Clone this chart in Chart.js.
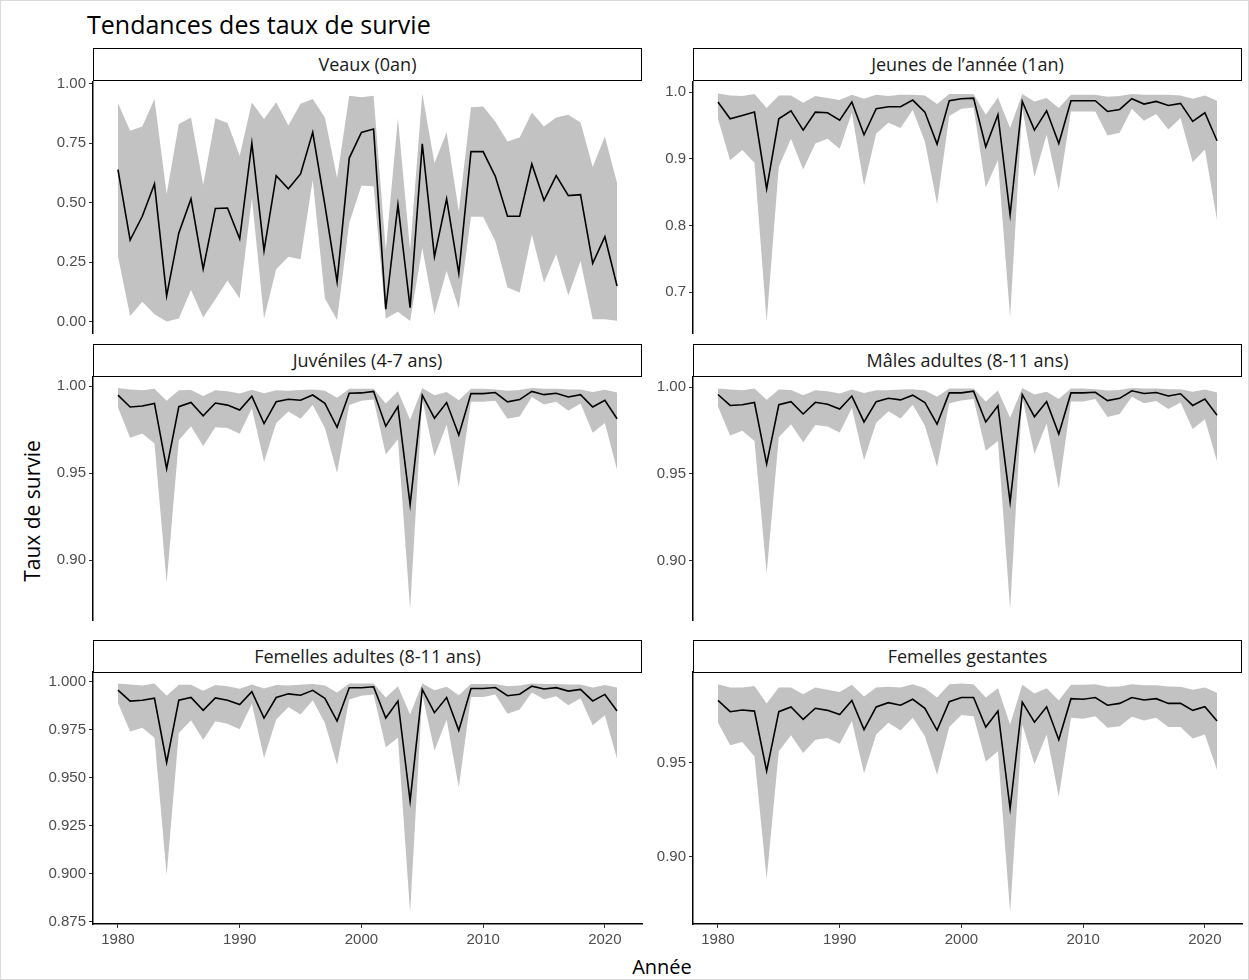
<!DOCTYPE html>
<html>
<head>
<meta charset="utf-8">
<script src="https://cdn.jsdelivr.net/npm/chart.js@4/dist/chart.umd.min.js"></script>
<style>
  html,body{margin:0;padding:0;background:#fff;}
  body{width:1249px;height:980px;position:relative;overflow:hidden;font-family:'Open Sans','Noto Sans',sans-serif;}
  .frame{position:absolute;left:0;top:0;width:1247px;height:978px;border:1px solid #d9d9d9;}
  .title{position:absolute;left:87px;top:7px;font-size:25px;color:#000;white-space:nowrap;}
  .strip{position:absolute;box-sizing:border-box;border:1.5px solid #000;background:#fff;text-align:center;font-size:18px;color:#1a1a1a;white-space:nowrap;}
  .ylab{position:absolute;left:32px;top:511px;transform:translate(-50%,-50%) rotate(-90deg);font-size:21px;color:#000;white-space:nowrap;}
  .xlab{position:absolute;left:662px;top:966px;transform:translate(-50%,-50%);font-size:20px;color:#000;white-space:nowrap;}
  canvas{position:absolute;}
</style>
</head>
<body>
<div class="frame"></div>
<div class="title">Tendances des taux de survie</div>
<div class="ylab">Taux de survie</div>
<div class="xlab">Année</div>
<script>
// ---------------- DATA ----------------
const years = [1980,1981,1982,1983,1984,1985,1986,1987,1988,1989,
               1990,1991,1992,1993,1994,1995,1996,1997,1998,1999,
               2000,2001,2002,2003,2004,2005,2006,2007,2008,2009,
               2010,2011,2012,2013,2014,2015,2016,2017,2018,2019,
               2020,2021];
const xTicks = [1980,1990,2000,2010,2020];
const xTickLabels = ['1980','1990','2000','2010','2020'];

const panelTitles = ['Veaux (0an)','Jeunes de l\u2019année (1an)','Juvéniles (4-7 ans)','Mâles adultes (8-11 ans)','Femelles adultes (8-11 ans)','Femelles gestantes'];

// Veaux (0an)
const veauxMean = [0.639,0.343,0.443,0.579,0.108,0.373,0.516,0.222,0.476,0.478,
                   0.348,0.751,0.299,0.614,0.559,0.621,0.796,0.490,0.168,0.688,
                   0.796,0.810,0.052,0.492,0.059,0.748,0.273,0.516,0.203,0.715,
                   0.715,0.611,0.443,0.443,0.663,0.510,0.614,0.530,0.534,0.245,
                   0.357,0.150];
const veauxUpper = [0.919,0.803,0.821,0.936,0.537,0.831,0.859,0.576,0.856,0.835,
                    0.698,0.922,0.852,0.923,0.825,0.916,0.937,0.859,0.604,0.950,
                    0.944,0.950,0.300,0.856,0.300,0.960,0.667,0.797,0.464,0.902,
                    0.905,0.842,0.758,0.775,0.880,0.821,0.859,0.870,0.838,0.650,
                    0.779,0.583];
const veauxLower = [0.276,0.024,0.084,0.031,0.000,0.013,0.133,0.017,0.094,0.173,
                    0.097,0.520,0.013,0.220,0.273,0.262,0.597,0.097,0.007,0.415,
                    0.572,0.569,0.013,0.041,0.003,0.310,0.031,0.213,0.055,0.441,
                    0.441,0.338,0.143,0.122,0.366,0.164,0.283,0.110,0.255,0.010,
                    0.010,0.003];
const veauxTicks = [0,0.25,0.5,0.75,1.0];
const veauxTickLabels = ['0.00','0.25','0.50','0.75','1.00'];

// Jeunes de l'année (1an)
const jeunesMean = [0.985,0.960,0.965,0.970,0.855,0.960,0.972,0.943,0.970,0.969,
                    0.958,0.985,0.936,0.975,0.978,0.978,0.988,0.970,0.922,0.987,
                    0.990,0.991,0.918,0.966,0.816,0.986,0.943,0.972,0.923,0.987,
                    0.987,0.987,0.971,0.974,0.990,0.982,0.986,0.980,0.983,0.956,
                    0.969,0.927];
const jeunesUpper = [0.998,0.995,0.994,0.997,0.976,0.995,0.995,0.984,0.994,0.991,
                     0.988,0.996,0.990,0.996,0.994,0.996,0.996,0.995,0.982,0.997,
                     0.997,0.997,0.966,0.992,0.946,0.997,0.986,0.991,0.976,0.996,
                     0.996,0.996,0.993,0.994,0.997,0.996,0.996,0.996,0.995,0.990,
                     0.995,0.987];
const jeunesLower = [0.960,0.898,0.913,0.894,0.656,0.888,0.930,0.884,0.923,0.930,
                     0.915,0.969,0.860,0.938,0.954,0.946,0.973,0.926,0.832,0.964,
                     0.975,0.977,0.857,0.898,0.662,0.976,0.873,0.936,0.853,0.971,
                     0.971,0.971,0.935,0.939,0.975,0.957,0.967,0.944,0.961,0.895,
                     0.914,0.808];
const jeunesTicks = [0.7,0.8,0.9,1.0];
const jeunesTickLabels = ['0.7','0.8','0.9','1.0'];

// Juvéniles (4-7 ans)
const juvMean = [0.9948,0.9880,0.9886,0.9901,0.9526,0.9882,0.9906,0.9830,0.9903,0.9891,
                 0.9863,0.9942,0.9785,0.9910,0.9925,0.9919,0.9949,0.9901,0.9764,0.9959,
                 0.9961,0.9970,0.9770,0.9882,0.9320,0.9948,0.9816,0.9906,0.9719,0.9957,
                 0.9957,0.9963,0.9910,0.9923,0.9970,0.9951,0.9959,0.9938,0.9951,0.9880,
                 0.9919,0.9813];
const juvUpper = [0.9989,0.9981,0.9976,0.9985,0.9916,0.9976,0.9978,0.9944,0.9976,0.9970,
                  0.9957,0.9979,0.9959,0.9976,0.9974,0.9978,0.9981,0.9974,0.9934,0.9985,
                  0.9985,0.9985,0.9901,0.9970,0.9807,0.9989,0.9948,0.9966,0.9919,0.9985,
                  0.9985,0.9981,0.9974,0.9978,0.9989,0.9985,0.9985,0.9981,0.9981,0.9966,
                  0.9979,0.9963];
const juvLower = [0.9878,0.9704,0.9728,0.9670,0.8871,0.9689,0.9770,0.9657,0.9764,0.9760,
                  0.9727,0.9873,0.9564,0.9788,0.9854,0.9813,0.9891,0.9760,0.9502,0.9891,
                  0.9916,0.9923,0.9607,0.9695,0.8721,0.9923,0.9596,0.9779,0.9423,0.9910,
                  0.9910,0.9916,0.9813,0.9826,0.9938,0.9895,0.9910,0.9858,0.9901,0.9732,
                  0.9788,0.9521];
const juvTicks = [0.90,0.95,1.00];
const juvTickLabels = ['0.90','0.95','1.00'];

// Mâles adultes (8-11 ans)
const malesMean = [0.9957,0.9894,0.9898,0.9911,0.9557,0.9898,0.9916,0.9845,0.9912,0.9901,
                   0.9873,0.9948,0.9799,0.9916,0.9935,0.9926,0.9953,0.9911,0.9786,0.9966,
                   0.9966,0.9976,0.9799,0.9892,0.9339,0.9957,0.9829,0.9916,0.9730,0.9966,
                   0.9966,0.9970,0.9922,0.9935,0.9978,0.9963,0.9968,0.9948,0.9961,0.9894,
                   0.9931,0.9838];
const malesUpper = [0.9991,0.9985,0.9981,0.9991,0.9926,0.9985,0.9983,0.9953,0.9981,0.9976,
                    0.9963,0.9985,0.9966,0.9981,0.9981,0.9985,0.9987,0.9980,0.9944,0.9991,
                    0.9991,0.9991,0.9916,0.9980,0.9823,0.9994,0.9957,0.9972,0.9931,0.9991,
                    0.9991,0.9987,0.9980,0.9983,0.9994,0.9991,0.9991,0.9987,0.9987,0.9972,
                    0.9985,0.9968];
const malesLower = [0.9888,0.9721,0.9749,0.9689,0.8929,0.9711,0.9786,0.9683,0.9782,0.9773,
                    0.9739,0.9879,0.9581,0.9795,0.9860,0.9819,0.9898,0.9777,0.9540,0.9907,
                    0.9922,0.9931,0.9633,0.9689,0.8724,0.9939,0.9615,0.9790,0.9413,0.9916,
                    0.9916,0.9931,0.9827,0.9845,0.9944,0.9907,0.9920,0.9873,0.9911,0.9758,
                    0.9814,0.9572];
const malesTicks = [0.90,0.95,1.00];
const malesTickLabels = ['0.90','0.95','1.00'];

// Femelles adultes (8-11 ans)
const femMean = [0.9956,0.9899,0.9904,0.9914,0.9580,0.9904,0.9918,0.9851,0.9916,0.9904,
                 0.9881,0.9948,0.9811,0.9918,0.9937,0.9930,0.9955,0.9914,0.9795,0.9969,
                 0.9969,0.9974,0.9811,0.9899,0.9379,0.9960,0.9839,0.9918,0.9747,0.9965,
                 0.9965,0.9970,0.9927,0.9935,0.9977,0.9962,0.9969,0.9951,0.9960,0.9900,
                 0.9934,0.9848];
const femUpper = [0.9991,0.9986,0.9981,0.9991,0.9927,0.9984,0.9984,0.9953,0.9983,0.9977,
                  0.9963,0.9986,0.9965,0.9983,0.9981,0.9984,0.9988,0.9981,0.9944,0.9991,
                  0.9991,0.9991,0.9918,0.9977,0.9829,0.9991,0.9956,0.9974,0.9930,0.9988,
                  0.9988,0.9988,0.9977,0.9981,0.9991,0.9988,0.9988,0.9986,0.9986,0.9970,
                  0.9983,0.9970];
const femLower = [0.9890,0.9741,0.9760,0.9708,0.8995,0.9733,0.9799,0.9698,0.9794,0.9781,
                  0.9753,0.9886,0.9603,0.9804,0.9869,0.9830,0.9904,0.9785,0.9568,0.9907,
                  0.9927,0.9934,0.9659,0.9708,0.8799,0.9934,0.9642,0.9802,0.9449,0.9921,
                  0.9921,0.9934,0.9834,0.9855,0.9944,0.9909,0.9925,0.9878,0.9914,0.9773,
                  0.9825,0.9598];
const femTicks = [0.875,0.900,0.925,0.950,0.975,1.000];
const femTickLabels = ['0.875','0.900','0.925','0.950','0.975','1.000'];

// Femelles gestantes
const gestMean = [0.9830,0.9770,0.9779,0.9773,0.9455,0.9770,0.9795,0.9729,0.9788,0.9777,
                  0.9755,0.9830,0.9675,0.9795,0.9818,0.9804,0.9836,0.9788,0.9671,0.9823,
                  0.9845,0.9845,0.9688,0.9773,0.9255,0.9821,0.9714,0.9796,0.9621,0.9839,
                  0.9836,0.9845,0.9804,0.9814,0.9845,0.9832,0.9839,0.9814,0.9814,0.9777,
                  0.9796,0.9720];
const gestUpper = [0.9916,0.9898,0.9898,0.9907,0.9813,0.9898,0.9898,0.9863,0.9898,0.9886,
                   0.9875,0.9913,0.9850,0.9898,0.9902,0.9898,0.9916,0.9895,0.9845,0.9916,
                   0.9920,0.9916,0.9845,0.9895,0.9702,0.9913,0.9866,0.9895,0.9830,0.9913,
                   0.9913,0.9916,0.9902,0.9904,0.9916,0.9911,0.9911,0.9904,0.9902,0.9886,
                   0.9898,0.9871];
const gestLower = [0.9711,0.9591,0.9609,0.9532,0.8880,0.9559,0.9645,0.9550,0.9621,0.9630,
                   0.9600,0.9720,0.9443,0.9648,0.9711,0.9670,0.9738,0.9639,0.9434,0.9689,
                   0.9752,0.9746,0.9505,0.9559,0.8702,0.9702,0.9491,0.9648,0.9318,0.9738,
                   0.9732,0.9746,0.9684,0.9693,0.9743,0.9723,0.9738,0.9688,0.9689,0.9627,
                   0.9648,0.9461];
const gestTicks = [0.90,0.95];
const gestTickLabels = ['0.90','0.95'];

// ---------------- LAYOUT ----------------
const colLeft = [93, 693];
const plotW = 549;
const rowTop = [82, 377, 672];
const rowBottom = [333, 620, 924];
const stripTop = [48, 344, 640];
const stripH = 33;
const yAxisW = 53;
const padTop = 14, padBottom = 14, xAxisH = 32;
const RIBBON = '#c2c2c2';
const TICKFONT = {family:"'Liberation Sans', Arial, sans-serif", size:15};
const TICKCOLOR = '#4d4d4d';

const panels = [
  {title:panelTitles[0], mean:veauxMean, upper:veauxUpper, lower:veauxLower, ticks:veauxTicks, tickLabels:veauxTickLabels, col:0, row:0},
  {title:panelTitles[1], mean:jeunesMean, upper:jeunesUpper, lower:jeunesLower, ticks:jeunesTicks, tickLabels:jeunesTickLabels, col:1, row:0},
  {title:panelTitles[2], mean:juvMean, upper:juvUpper, lower:juvLower, ticks:juvTicks, tickLabels:juvTickLabels, col:0, row:1},
  {title:panelTitles[3], mean:malesMean, upper:malesUpper, lower:malesLower, ticks:malesTicks, tickLabels:malesTickLabels, col:1, row:1},
  {title:panelTitles[4], mean:femMean, upper:femUpper, lower:femLower, ticks:femTicks, tickLabels:femTickLabels, col:0, row:2},
  {title:panelTitles[5], mean:gestMean, upper:gestUpper, lower:gestLower, ticks:gestTicks, tickLabels:gestTickLabels, col:1, row:2}
];

const xMinData = years[0], xMaxData = years[years.length-1];
const xPad = (xMaxData - xMinData) * 0.05;

function pts(arr){ return years.map((y,i)=>({x:y, y:arr[i]})); }

panels.forEach(p => {
  const s = document.createElement('div');
  s.className = 'strip';
  s.style.left = colLeft[p.col] + 'px';
  s.style.top = stripTop[p.row] + 'px';
  s.style.width = plotW + 'px';
  s.style.height = stripH + 'px';
  s.style.lineHeight = (stripH - 3) + 'px';
  s.textContent = p.title;
  document.body.appendChild(s);

  const bottomRow = p.row === 2;
  const cv = document.createElement('canvas');
  const cw = yAxisW + plotW + 1;
  const ch = padTop + (rowBottom[p.row] - rowTop[p.row]) + (bottomRow ? xAxisH : padBottom);
  cv.width = cw; cv.height = ch;
  cv.style.width = cw + 'px'; cv.style.height = ch + 'px';
  cv.style.left = (colLeft[p.col] - yAxisW) + 'px';
  cv.style.top = (rowTop[p.row] - padTop) + 'px';
  document.body.appendChild(cv);

  const lo = Math.min(...p.lower), hi = Math.max(...p.upper);
  const yPad = (hi - lo) * 0.05;

  new Chart(cv.getContext('2d'), {
    type: 'line',
    data: {
      datasets: [
        {data: pts(p.upper), order:2, borderColor:'rgba(0,0,0,0)', borderWidth:0, pointRadius:0, fill:'+1', backgroundColor:RIBBON, tension:0},
        {data: pts(p.lower), order:2, borderColor:'rgba(0,0,0,0)', borderWidth:0, pointRadius:0, fill:false, tension:0},
        {data: pts(p.mean), order:0, borderColor:'#000', borderWidth:1.6, pointRadius:0, fill:false, tension:0}
      ]
    },
    options: {
      responsive:false, animation:false, devicePixelRatio:1,
      layout:{padding:{top:padTop, right:1, left:0, bottom: bottomRow ? 0 : padBottom}},
      plugins:{legend:{display:false}, tooltip:{enabled:false}, title:{display:false},
               filler:{drawTime:'beforeDatasetsDraw'}},
      scales:{
        x:{
          type:'linear', min:xMinData - xPad, max:xMaxData + xPad,
          display: bottomRow,
          afterFit: sc => { sc.height = bottomRow ? xAxisH : 0; },
          afterBuildTicks: sc => { sc.ticks = xTicks.map(v=>({value:v})); },
          ticks:{autoSkip:false, maxRotation:0, font:TICKFONT, color:TICKCOLOR, padding:3,
                 callback:(v,i)=> xTickLabels[i]},
          grid:{display:true, drawOnChartArea:false, drawTicks:true, tickLength:4, color:'#333', lineWidth:1},
          border:{display:true, color:'#000', width:1.5}
        },
        y:{
          type:'linear', min: lo - yPad, max: hi + yPad,
          afterFit: sc => { sc.width = yAxisW; },
          afterBuildTicks: sc => { sc.ticks = p.ticks.map(v=>({value:v})); },
          ticks:{autoSkip:false, font:TICKFONT, color:TICKCOLOR, padding:3,
                 callback:(v,i)=> p.tickLabels[i]},
          grid:{display:true, drawOnChartArea:false, drawTicks:true, tickLength:4, color:'#333', lineWidth:1},
          border:{display:true, color:'#000', width:1.5}
        }
      }
    }
  });
});
</script>
</body>
</html>
